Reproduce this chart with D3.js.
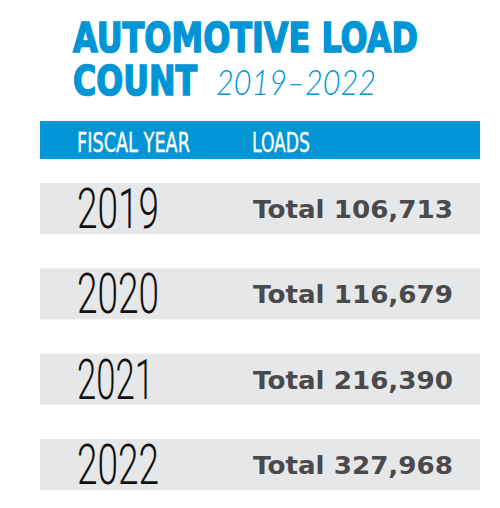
<!DOCTYPE html>
<html><head><meta charset="utf-8">
<script src="https://cdn.jsdelivr.net/npm/d3@7"></script>
<style>body{margin:0;background:#fff}svg{display:block}</style>
</head><body>
<script>
const titleLine1 = "AUTOMOTIVE LOAD";
const titleLine2 = "COUNT";
const titleRange = "2019–2022";
const headers = ["FISCAL YEAR", "LOADS"];
const years = ["2019", "2020", "2021", "2022"];
const totals = [106713, 116679, 216390, 327968];

const W = 500, H = 508;
const blue = "#0095d5", gray = "#e6e7e8", dark = "#4a4a4c";
const svg = d3.select("body").append("svg").attr("width", W).attr("height", H);

// Title
svg.append("text").attr("x", 73).attr("y", 52).text(titleLine1)
  .attr("fill", blue).attr("stroke", blue).attr("stroke-width", 1.6)
  .attr("font-family", "DejaVu Sans").attr("font-weight", "bold")
  .attr("font-size", 40).attr("textLength", 345).attr("lengthAdjust", "spacingAndGlyphs");
svg.append("text").attr("x", 73).attr("y", 95).text(titleLine2)
  .attr("fill", blue).attr("stroke", blue).attr("stroke-width", 1.6)
  .attr("font-family", "DejaVu Sans").attr("font-weight", "bold")
  .attr("font-size", 40).attr("textLength", 124).attr("lengthAdjust", "spacingAndGlyphs");
svg.append("text").attr("x", 216).attr("y", 95).text(titleRange)
  .attr("fill", blue).attr("font-family", "Lato").attr("font-weight", 300).attr("font-style", "italic")
  .attr("font-size", 36).attr("textLength", 160).attr("lengthAdjust", "spacingAndGlyphs");

// Header bar
const x0 = 40, x1 = 480;
svg.append("rect").attr("x", x0).attr("y", 121).attr("width", x1 - x0).attr("height", 38).attr("fill", blue);
const colX = [77, 252], colW = [113, 58];
svg.selectAll("text.hdr").data(headers).join("text").attr("class", "hdr")
  .attr("x", (d, i) => colX[i]).attr("y", 152).text(d => d)
  .attr("fill", "#fff").attr("stroke", "#fff").attr("stroke-width", 0.4)
  .attr("font-family", "DejaVu Sans Condensed, DejaVu Sans")
  .attr("font-size", 27).attr("textLength", (d, i) => colW[i]).attr("lengthAdjust", "spacingAndGlyphs");

// Rows
const y = d3.scaleBand().domain(years).range([183, 490]).paddingInner(0.402).paddingOuter(0);
const rowH = y.bandwidth();
const fmt = d3.format(",");
const rows = svg.selectAll("g.row").data(years.map((yr, i) => ({ yr, total: totals[i] })))
  .join("g").attr("class", "row").attr("transform", d => `translate(0,${y(d.yr)})`);
rows.append("rect").attr("x", x0).attr("width", x1 - x0).attr("height", rowH).attr("fill", gray);
rows.append("text").attr("x", 77).attr("y", 45).text(d => d.yr)
  .attr("fill", "#111").attr("font-family", "Roboto").attr("font-weight", 300)
  .attr("font-size", 55).attr("textLength", d => d.yr === "2021" ? 77 : 82).attr("lengthAdjust", "spacingAndGlyphs");
rows.append("text").attr("x", 253).attr("y", 35).text(d => "Total " + fmt(d.total))
  .attr("fill", dark).attr("font-family", "DejaVu Sans").attr("font-weight", "bold")
  .attr("font-size", 25).attr("textLength", 200).attr("lengthAdjust", "spacingAndGlyphs");
</script>
</body></html>
